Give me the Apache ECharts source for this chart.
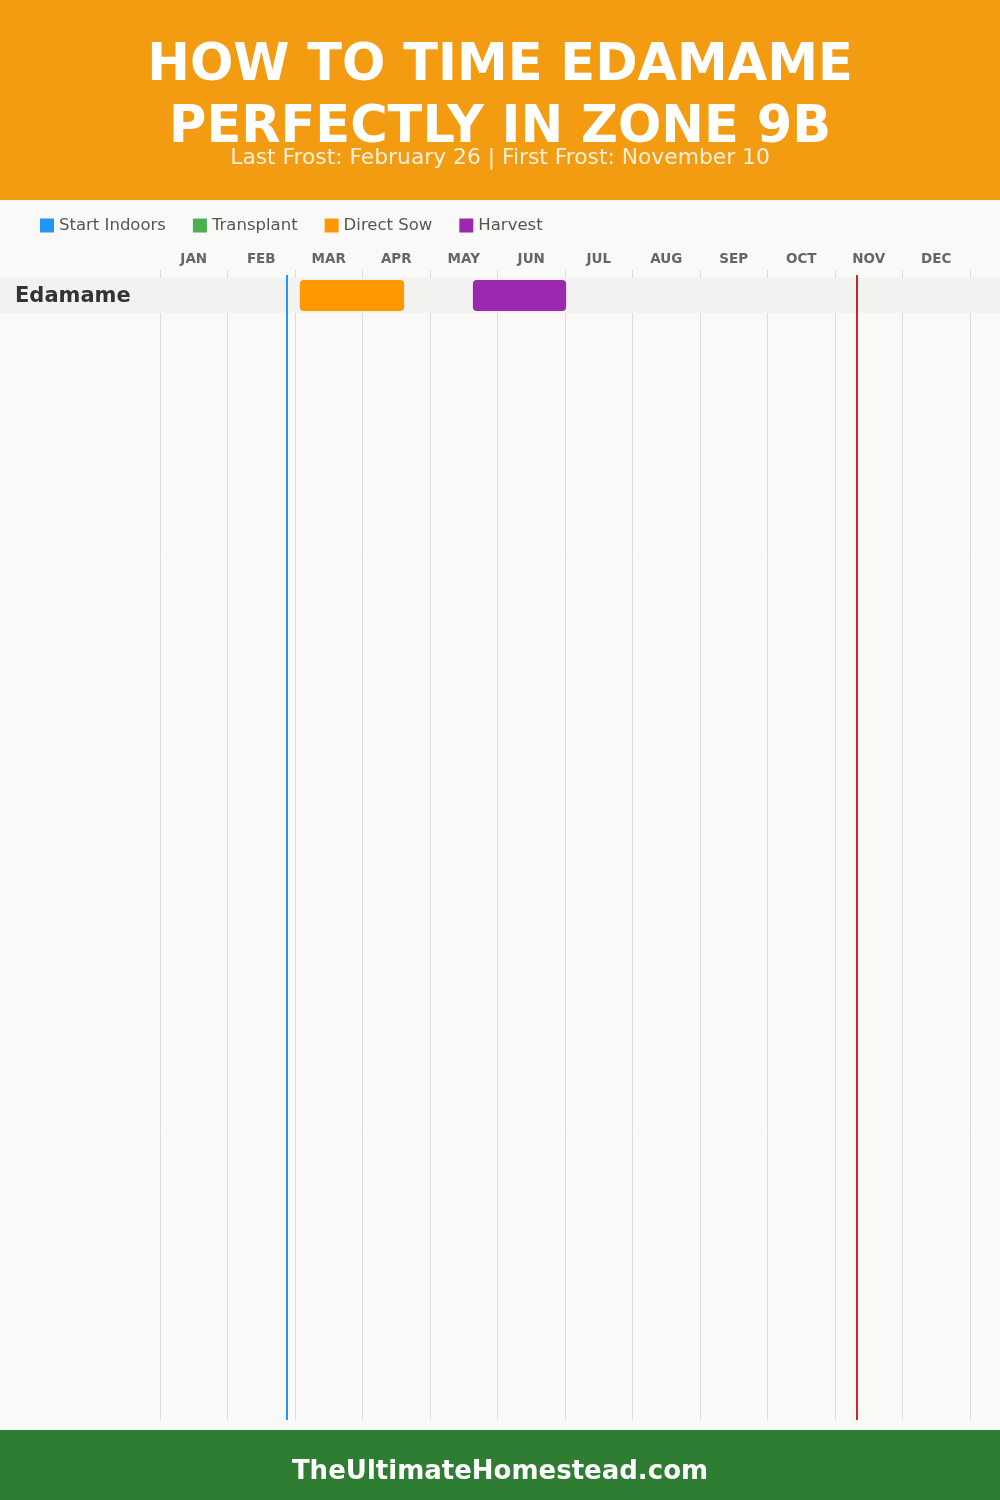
<!DOCTYPE html>
<html>
<head>
<meta charset="utf-8">
<script src="https://cdn.jsdelivr.net/npm/echarts@6/dist/echarts.min.js"></script>
<style>html,body{margin:0;padding:0;background:#f9f9f7}#c{width:1000px;height:1500px}</style>
</head>
<body>
<div id="c"></div>
<script>
// ---- data ----
const months = ['JAN','FEB','MAR','APR','MAY','JUN','JUL','AUG','SEP','OCT','NOV','DEC'];
const crops = ['Edamame'];
const startIndoors = [];               // [crop, start, end]
const transplant = [];
const directSow = [['Edamame', '03-04', '04-20']];
const harvest = [['Edamame', '05-21', '07-02']];
const lastFrost = '02-26';
const firstFrost = '11-10';
const titleText = 'HOW TO TIME EDAMAME\nPERFECTLY IN ZONE 9B';
const subtitleText = 'Last Frost: February 26 | First Frost: November 10';
const footerText = 'TheUltimateHomestead.com';

// ---- helpers ----
const monthDays = [31,28,31,30,31,30,31,31,30,31,30,31];
function pos(mmdd) {
  const [m, d] = mmdd.split('-').map(Number);
  let doy = d;
  for (let i = 0; i < m - 1; i++) doy += monthDays[i];
  return doy / 365 * 12;
}
function toData(arr) {
  return arr.map(r => [pos(r[1]), pos(r[2]), crops.indexOf(r[0])]);
}
const FONT = '"DejaVu Sans", sans-serif';
const Y_MIN = -0.23, Y_MAX = 32.63, LINE_TOP = -0.086;

function barRender(params, api) {
  const s = api.coord([api.value(0), api.value(2)]);
  const e = api.coord([api.value(1), api.value(2) + 1]);
  return {
    type: 'rect',
    shape: { x: s[0], y: s[1] + 2, width: e[0] - s[0], height: e[1] - s[1] - 4, r: 4 },
    style: { fill: api.visual('color') }
  };
}
function rowRender(params, api) {
  const r = api.value(0);
  const a = api.coord([0, r]);
  const b = api.coord([0, r + 1]);
  return {
    type: 'group',
    children: [
      { type: 'rect', shape: { x: 0, y: a[1], width: api.getWidth(), height: b[1] - a[1] },
        style: { fill: '#f2f2f0' } },
      { type: 'text', x: 15, y: (a[1] + b[1]) / 2 + 1,
        style: { text: crops[r], fill: '#333', font: 'bold 21px ' + FONT, verticalAlign: 'middle', align: 'left' } }
    ]
  };
}
function mkSeries(name, color, arr) {
  return {
    name: name, type: 'custom', renderItem: barRender, clip: false,
    itemStyle: { color: color }, encode: { x: [0, 1], y: 2 },
    data: toData(arr), z: 5
  };
}

const chart = echarts.init(document.getElementById('c'), null, { renderer: 'canvas' });
chart.setOption({
  backgroundColor: '#f9f9f7',
  animation: false,
  graphic: [
    { type: 'rect', left: 0, top: 0, shape: { width: 1000, height: 200 }, style: { fill: '#f39c12' }, z: -10 },
    { type: 'rect', left: 0, top: 1430, shape: { width: 1000, height: 70 }, style: { fill: '#2e7d32' }, z: -10 },
    { type: 'text', left: 'center', top: 1459, style: { text: footerText, fill: '#fff', font: 'bold 26px ' + FONT } }
  ],
  title: [
    { text: titleText, left: 'center', top: 31,
      textStyle: { color: '#fff', fontSize: 51, fontWeight: 900, fontFamily: FONT, lineHeight: 62 } },
    { text: subtitleText, left: 'center', top: 142,
      textStyle: { color: 'rgba(255,255,255,0.85)', fontSize: 21.8, fontWeight: 'normal', fontFamily: FONT } }
  ],
  legend: {
    left: 35, top: 212, itemWidth: 14, itemHeight: 14, itemGap: 27, icon: 'rect',
    textStyle: { color: '#555', fontSize: 16.5, fontFamily: FONT },
    data: ['Start Indoors', 'Transplant', 'Direct Sow', 'Harvest']
  },
  grid: { left: 160, right: 30, top: 270, bottom: 80 },
  xAxis: [
    { type: 'value', min: 0, max: 12, interval: 1,
      axisLine: { show: false }, axisTick: { show: false }, axisLabel: { show: false },
      splitLine: { show: true, lineStyle: { color: '#dddddd', width: 1 } } },
    { type: 'category', position: 'top', data: months, boundaryGap: true,
      axisLine: { show: false }, axisTick: { show: false }, splitLine: { show: false },
      axisLabel: { margin: 4, color: '#666', fontSize: 13.5, fontWeight: 'bold', fontFamily: FONT } }
  ],
  yAxis: { type: 'value', inverse: true, min: Y_MIN, max: Y_MAX,
    axisLine: { show: false }, axisTick: { show: false }, axisLabel: { show: false }, splitLine: { show: false } },
  series: [
    { type: 'custom', renderItem: rowRender, clip: false, silent: true,
      encode: { x: 1, y: 0 }, data: crops.map((c, i) => [i, 0]), z: 2,
      markLine: {
        silent: true, symbol: 'none', label: { show: false }, z: 6,
        data: [
          [ { coord: [pos(lastFrost), LINE_TOP], lineStyle: { color: '#2196f3', width: 2, type: 'solid' } },
            { coord: [pos(lastFrost), Y_MAX] } ],
          [ { coord: [pos(firstFrost), LINE_TOP], lineStyle: { color: '#c62828', width: 2, type: 'solid' } },
            { coord: [pos(firstFrost), Y_MAX] } ]
        ]
      }
    },
    mkSeries('Start Indoors', '#2196f3', startIndoors),
    mkSeries('Transplant', '#4caf50', transplant),
    mkSeries('Direct Sow', '#ff9800', directSow),
    mkSeries('Harvest', '#9c27b0', harvest)
  ]
});
</script>
</body>
</html>
